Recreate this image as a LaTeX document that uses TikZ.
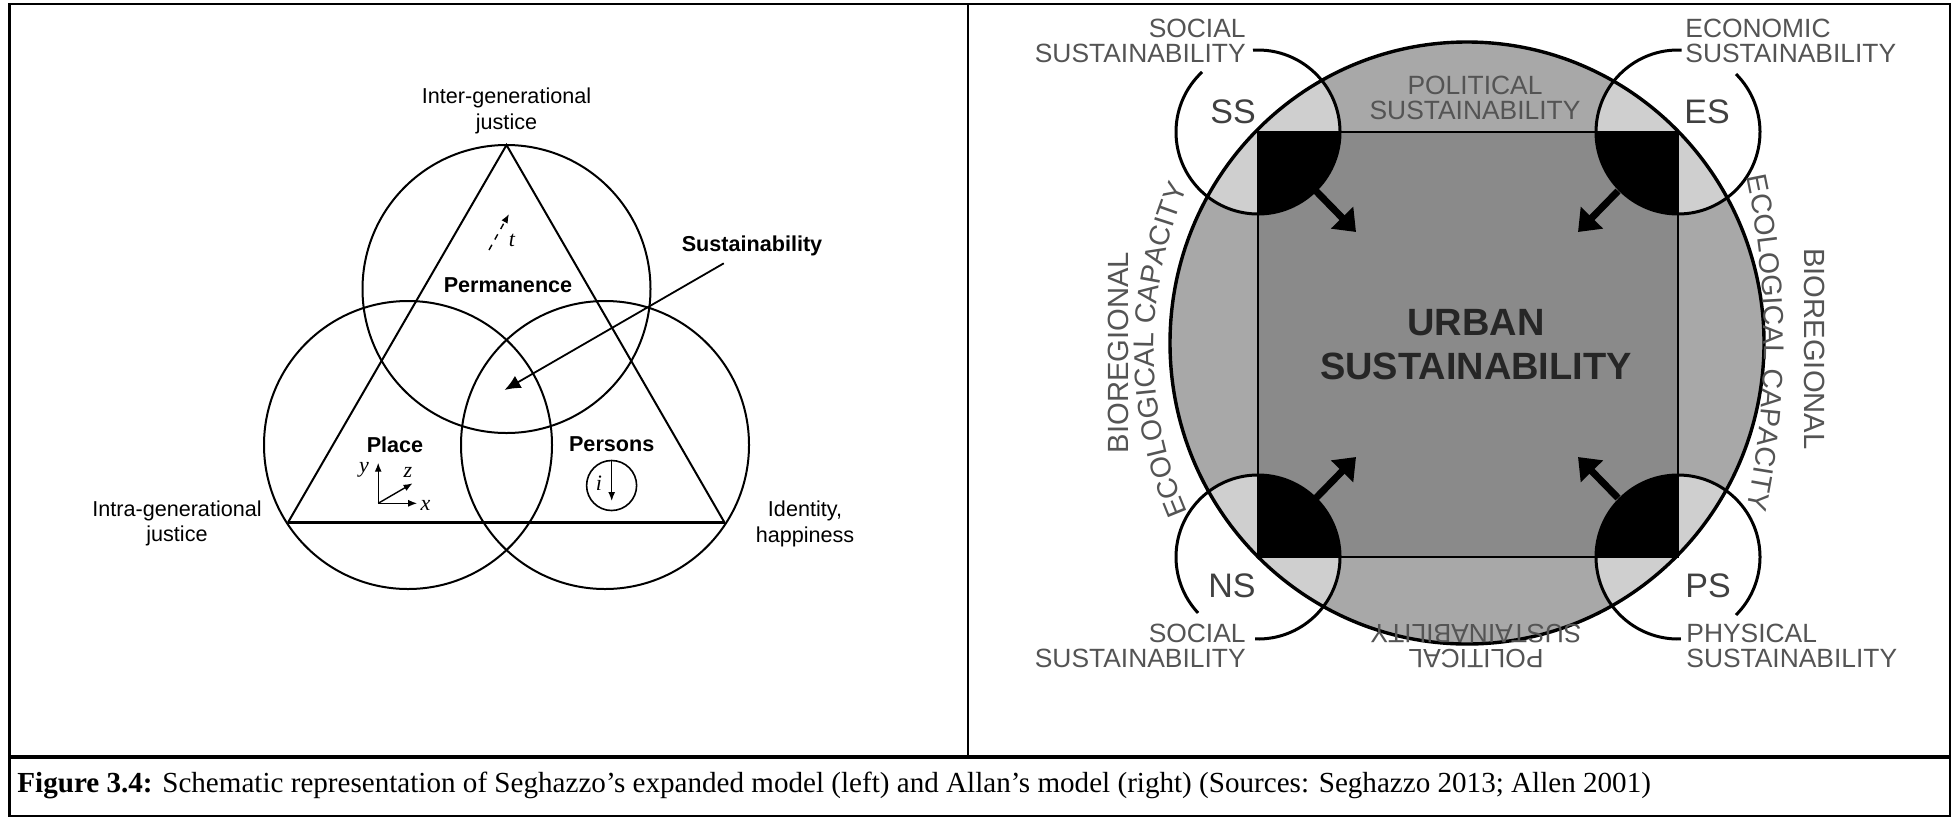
\documentclass[tikz,border=0pt]{standalone}
\usepackage{fontspec}
\setmainfont{Liberation Serif}
\newfontfamily\arialfont{Liberation Sans}
\usetikzlibrary{arrows.meta,decorations.text}

\definecolor{ringgray}{gray}{0.66}
\definecolor{squaregray}{gray}{0.54}
\definecolor{cornergray}{gray}{0.81}
\definecolor{labelgray}{gray}{0.33}

\begin{document}
\begin{tikzpicture}[x=0.5pt,y=-0.5pt,
  venn/.style={line width=1pt},
  lbl/.style={font=\arialfont\fontsize{10.8}{12.8}\selectfont,align=center,inner sep=0pt},
  lblb/.style={font=\arialfont\bfseries\fontsize{10.8}{12.8}\selectfont,inner sep=0pt},
  var/.style={font=\itshape\fontsize{11}{11}\selectfont,inner sep=0pt},
  small arrow/.style={line width=0.7pt,-{Latex[length=4.5pt,width=3.5pt]}},
  capslbl/.style={font=\arialfont\fontsize{13.2}{12.5}\selectfont,text=labelgray,inner sep=0pt},
  cornerlbl/.style={font=\arialfont\fontsize{17}{17}\selectfont,text=black!75,inner sep=0pt},
  sidelbl/.style={font=\arialfont\fontsize{14.6}{14.6}\selectfont,text=labelgray,inner sep=0pt},
  ringline/.style={line width=1.5pt},
  push/.style={line width=3.5pt,-{Triangle[length=10pt,width=15pt]}}
]
\useasboundingbox (0,0) rectangle (1959,820);

% table frame
\draw[line width=1.2pt] (9.5,4) rectangle (1950,816);
\draw[line width=1.2pt] (968,4) -- (968,757);
\draw[line width=2pt] (9.5,757) -- (1950,757);

\node[anchor=base west,inner sep=0pt,font=\fontsize{14.55}{18}\selectfont] (caption) at (17,792)
  {\textbf{Figure 3.4:} Schematic representation of Seghazzo’s expanded model (left) and Allan’s model (right) (Sources: Seghazzo 2013; Allen 2001)};

% left: Seghazzo
\begin{scope}
\coordinate (ctop) at (506.5,289);
\coordinate (cleft) at (408,445);
\coordinate (cright) at (605,445);
\foreach \c in {ctop,cleft,cright}
  \draw[venn] (\c) circle (72pt);

\coordinate (apex) at (506.5,145);
\coordinate (basel) at (288,522.5);
\coordinate (baser) at (724.5,522.5);
\draw[venn] (basel) -- (apex) -- (baser);
\draw[line width=1.4pt] (basel) -- (baser);

\node[lbl] (inter) at (506.5,111) {Inter-generational\\justice};
\node[lbl] (intra) at (177,523.5) {Intra-generational\\justice};
\node[lbl] (ident) at (805,524) {Identity,\\happiness};

\node[lblb] (sust) at (752,245.7) {Sustainability};
\coordinate (sust0) at (723.8,263.3);
\coordinate (sust1) at (504.5,390);
\draw[line width=0.9pt,-{Latex[length=8pt,width=7pt]}] (sust0) -- (sust1);

\node[lblb] (perm) at (508,285) {Permanence};
\coordinate (t0) at (489,250);
\coordinate (t1) at (509,214);
\draw[small arrow,dashed] (t0) -- (t1);
\node[var] (tlab) at (512,240) {t};

\node[lblb] (place) at (395,444.3) {Place};
\coordinate (o) at (378.2,503.3);
\coordinate (oy) at (378.2,462.7);
\coordinate (ox) at (417.2,503.3);
\coordinate (oz) at (412.6,483.3);
\draw[small arrow] (o) -- (oy);
\draw[small arrow] (o) -- (ox);
\draw[small arrow] (o) -- (oz);
\node[var] (ylab) at (364,470) {y};
\node[var] (xlab) at (425.5,505) {x};
\node[var] (zlab) at (408,472) {z};

\node[lblb] (persons) at (611.7,444.3) {Persons};
\coordinate (pc) at (611.6,485.5);
\draw[line width=0.8pt] (pc) circle (12.5pt);
\coordinate (i0) at (611.7,460);
\coordinate (i1) at (611.7,501);
\draw[small arrow] (i0) -- (i1);
\node[var] (ilab) at (599,483) {i};
\end{scope}

% right: Allen
\begin{scope}
\coordinate (uc) at (1467,343);
\coordinate (ss) at (1258,132);
\coordinate (es) at (1678,132);
\coordinate (ns) at (1258,557);
\coordinate (ps) at (1678,557);

\fill[ringgray] (uc) ellipse [x radius=148.5pt,y radius=150.5pt];
\begin{scope}
\clip (uc) ellipse [x radius=148.5pt,y radius=150.5pt];
\foreach \c in {ss,es,ns,ps}
  \fill[cornergray] (\c) circle (41pt);
\end{scope}
\fill[squaregray] (ss) rectangle (ps);
\begin{scope}
\clip (ss) rectangle (ps);
\foreach \c in {ss,es,ns,ps}
  \fill[black] (\c) circle (41pt);
\end{scope}
\draw[line width=1pt] (ss) rectangle (ps);
\draw[line width=1.7pt] (uc) ellipse [x radius=148.5pt,y radius=150.5pt];

\draw[ringline] (ss) ++(133:41pt) arc[start angle=133,end angle=453.5,radius=41pt];
\draw[ringline] (es) ++(87.5:41pt) arc[start angle=87.5,end angle=405,radius=41pt];
\draw[ringline] (ns) ++(-92:41pt) arc[start angle=-92,end angle=223,radius=41pt];
\draw[ringline] (ps) ++(-45:41pt) arc[start angle=-45,end angle=272,radius=41pt];

\coordinate (ss0) at (1316,191);
\coordinate (ss1) at (1356,232);
\coordinate (es0) at (1618,191);
\coordinate (es1) at (1578,232);
\coordinate (ns0) at (1316,498);
\coordinate (ns1) at (1356,457);
\coordinate (ps0) at (1618,498);
\coordinate (ps1) at (1578,457);
\draw[push] (ss0) -- (ss1);
\draw[push] (es0) -- (es1);
\draw[push] (ns0) -- (ns1);
\draw[push] (ps0) -- (ps1);

\node[cornerlbl] (sslab) at (1233,112) {SS};
\node[cornerlbl] (eslab) at (1707,112) {ES};
\node[cornerlbl] (nslab) at (1232,586) {NS};
\node[cornerlbl] (pslab) at (1708,586) {PS};

\node[capslbl,anchor=east,align=right] (soctop) at (1246,40.5) {SOCIAL\\SUSTAINABILITY};
\node[capslbl,anchor=west,align=left] (econ) at (1685,40.5) {ECONOMIC\\SUSTAINABILITY};
\node[capslbl,anchor=east,align=right] (socbot) at (1246,645.5) {SOCIAL\\SUSTAINABILITY};
\node[capslbl,anchor=west,align=left] (phys) at (1686,645.5) {PHYSICAL\\SUSTAINABILITY};
\node[capslbl,align=center] (poltop) at (1475,97.5) {POLITICAL\\SUSTAINABILITY};
\node[capslbl,align=center,rotate=180] (polbot) at (1476,646) {POLITICAL\\SUSTAINABILITY};

\node[font=\arialfont\bfseries\fontsize{19}{22}\selectfont,text=black!85,align=center,inner sep=0pt]
  (urban) at (1476,345) {URBAN\\SUSTAINABILITY};

\node[sidelbl,rotate=90] (bioleft) at (1118,352.5) {BIOREGIONAL};
\node[sidelbl,rotate=-90] (bioright) at (1815,349) {BIOREGIONAL};
% flat arcs for the curved labels
\coordinate (ecolc) at (1564,350);
\coordinate (ecorc) at (974,343);
\path (ecolc) ++(215:205pt) coordinate (ecoleft0);
\path (ecorc) ++(25:395pt) coordinate (ecoright0);
\path[decorate,decoration={text along path,text align=center,text color=labelgray,
  text={|\arialfont\fontsize{14.2}{14}\selectfont|ECOLOGICAL CAPACITY}}]
  (ecoleft0) arc[start angle=215,end angle=145,radius=205pt];
\path[decorate,decoration={text along path,text align=center,text color=labelgray,
  text={|\arialfont\fontsize{14.2}{14}\selectfont|ECOLOGICAL CAPACITY}}]
  (ecoright0) arc[start angle=25,end angle=-25,radius=395pt];
\end{scope}

\end{tikzpicture}
\end{document}
